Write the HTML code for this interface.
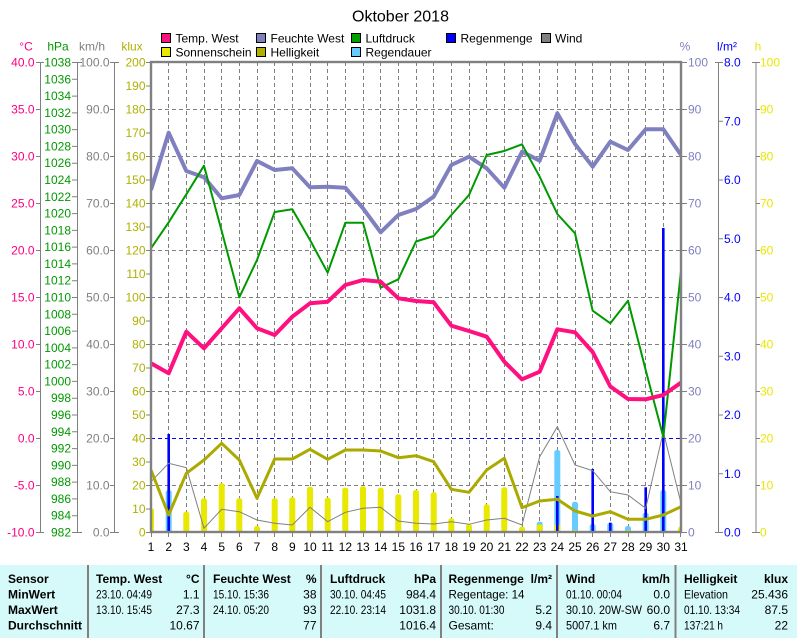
<!DOCTYPE html>
<html><head><meta charset="utf-8"><style>
html,body{margin:0;padding:0;background:#fff;width:797px;height:638px;overflow:hidden}
svg{display:block;font-family:"Liberation Sans",Arial,sans-serif}
</style></head><body>
<svg width="797" height="638" viewBox="0 0 797 638" xmlns="http://www.w3.org/2000/svg">
<defs><clipPath id="pc"><rect x="151" y="62" width="530" height="470"/></clipPath></defs>
<rect width="797" height="638" fill="#fff"/>
<text x="400.5" y="21.5" font-size="16" text-anchor="middle" fill="#000">Oktober 2018</text>

<!-- legend -->
<g font-size="12" fill="#000" stroke="none">
<rect x="161.5" y="33.5" width="9" height="9" fill="#ff1080" stroke="#000"/><text x="175.5" y="42.5">Temp. West</text>
<rect x="256.5" y="33.5" width="9" height="9" fill="#8080c0" stroke="#000"/><text x="270.5" y="42.5">Feuchte West</text>
<rect x="351.5" y="33.5" width="9" height="9" fill="#00a000" stroke="#000"/><text x="365.5" y="42.5">Luftdruck</text>
<rect x="446.5" y="33.5" width="9" height="9" fill="#0000ff" stroke="#000"/><text x="460.5" y="42.5">Regenmenge</text>
<rect x="541.5" y="33.5" width="9" height="9" fill="#808080" stroke="#000"/><text x="555" y="42.5">Wind</text>
<rect x="161.5" y="47.5" width="9" height="9" fill="#e8e800" stroke="#000"/><text x="175.5" y="56.5">Sonnenschein</text>
<rect x="256.5" y="47.5" width="9" height="9" fill="#b0b000" stroke="#000"/><text x="270.5" y="56.5">Helligkeit</text>
<rect x="351.5" y="47.5" width="9" height="9" fill="#66ccff" stroke="#000"/><text x="365.5" y="56.5">Regendauer</text>
</g>

<!-- unit headers -->
<g font-size="12" text-anchor="middle">
<text x="26" y="50.5" fill="#ff0080">°C</text>
<text x="58" y="50.5" fill="#009900">hPa</text>
<text x="92" y="50.5" fill="#808080">km/h</text>
<text x="132" y="50.5" fill="#b0b000">klux</text>
<text x="685" y="50.5" fill="#8080c0">%</text>
<text x="727" y="50.5" fill="#0000ff">l/m²</text>
<text x="758" y="50.5" fill="#e8e800">h</text>
</g>

<!-- grid -->
<g stroke="#808080" stroke-width="1" stroke-dasharray="4 3" fill="none">
<path d="M151 109.5H681M151 156.5H681M151 203.5H681M151 250.5H681M151 297.5H681M151 344.5H681M151 391.5H681M151 438.5H681M151 485.5H681"/>
<path d="M168.5 62V532M186.5 62V532M204.5 62V532M221.5 62V532M239.5 62V532M257.5 62V532M274.5 62V532M292.5 62V532M310.5 62V532M327.5 62V532M345.5 62V532M363.5 62V532M380.5 62V532M398.5 62V532M416.5 62V532M433.5 62V532M451.5 62V532M469.5 62V532M486.5 62V532M504.5 62V532M522.5 62V532M539.5 62V532M557.5 62V532M575.5 62V532M592.5 62V532M610.5 62V532M628.5 62V532M645.5 62V532M663.5 62V532"/>
</g>
<path d="M151 438.5H681" stroke="#0000ff" stroke-width="1" stroke-dasharray="4 3"/>

<!-- bars -->
<g clip-path="url(#pc)">
<g fill="#66ccff">
<rect x="165.7" y="490" width="6" height="45" rx="2.5"/>
<rect x="536.7" y="521.7" width="6" height="14" rx="2.5"/>
<rect x="554.3" y="450" width="6" height="85" rx="2.5"/>
<rect x="572" y="501.7" width="6" height="34" rx="2.5"/>
<rect x="589.7" y="524" width="6" height="12" rx="2.5"/>
<rect x="607.3" y="522.7" width="6" height="13" rx="2.5"/>
<rect x="625" y="526" width="6" height="10" rx="2.5"/>
<rect x="642.7" y="512.7" width="6" height="23" rx="2.5"/>
<rect x="660.3" y="490" width="6" height="45" rx="2.5"/>
</g>
<g fill="#e8e800">
<rect x="148" y="508.3" width="6" height="27" rx="2.5"/>
<rect x="183.3" y="511.7" width="6" height="24" rx="2.5"/>
<rect x="201" y="498.3" width="6" height="37" rx="2.5"/>
<rect x="218.7" y="483.3" width="6" height="52" rx="2.5"/>
<rect x="236.3" y="498.3" width="6" height="37" rx="2.5"/>
<rect x="254" y="526" width="6" height="10" rx="2.5"/>
<rect x="271.7" y="498.3" width="6" height="37" rx="2.5"/>
<rect x="289.3" y="497.3" width="6" height="38" rx="2.5"/>
<rect x="307" y="486.7" width="6" height="48" rx="2.5"/>
<rect x="324.7" y="497.7" width="6" height="37" rx="2.5"/>
<rect x="342.3" y="487.7" width="6" height="47" rx="2.5"/>
<rect x="360" y="486.3" width="6" height="48" rx="2.5"/>
<rect x="377.7" y="487.7" width="6" height="47" rx="2.5"/>
<rect x="395.3" y="494.3" width="6" height="40" rx="2.5"/>
<rect x="413" y="490" width="6" height="45" rx="2.5"/>
<rect x="430.7" y="492.3" width="6" height="43" rx="2.5"/>
<rect x="448.3" y="518.3" width="6" height="17" rx="2.5"/>
<rect x="466" y="524.3" width="6" height="12" rx="2.5"/>
<rect x="483.7" y="504.3" width="6" height="31" rx="2.5"/>
<rect x="501.3" y="487.3" width="6" height="48" rx="2.5"/>
<rect x="519" y="526.7" width="6" height="9" rx="2.5"/>
<rect x="536.7" y="524.3" width="6" height="12" rx="2.5"/>
<rect x="554.3" y="524" width="6" height="12" rx="2.5"/>
<rect x="572" y="530" width="6" height="6" rx="2.5"/>
<rect x="625" y="530" width="6" height="6" rx="2.5"/>
<rect x="678" y="526.7" width="6" height="9" rx="2.5"/>
</g>
<g fill="#0000ff">
<rect x="167.4" y="434" width="2.6" height="100"/>
<rect x="556" y="496" width="2.6" height="38"/>
<rect x="591.4" y="469" width="2.6" height="65"/>
<rect x="609" y="522.7" width="2.6" height="12"/>
<rect x="644.4" y="487.3" width="2.6" height="47"/>
<rect x="662" y="228" width="2.6" height="306"/>
</g>

<!-- series lines -->
<polyline fill="none" stroke="#808080" stroke-width="1" points="151,481.7 168.67,463.3 186.33,467.7 204,528.3 221.67,509.3 239.33,511.7 257,520 274.67,523.3 292.33,525 310,507.3 327.67,521.7 345.33,512.3 363,508.3 380.67,507.3 398.33,521 416,523.3 433.67,524 451.33,521.7 469,524.3 486.67,520 504.33,518.3 522,525 539.67,456.7 557.33,426.7 575,465 592.67,470.7 610.33,491.7 628,495 645.67,508.3 663.33,431.7 681,503.3"/>
<polyline fill="none" stroke="#aaaa00" stroke-width="3" stroke-linejoin="round" points="151,470 168.67,515 186.33,473.3 204,460 221.67,443.3 239.33,460 257,498.3 274.67,459 292.33,459 310,449.3 327.67,459.3 345.33,450 363,450 380.67,451 398.33,457.7 416,455.7 433.67,461.7 451.33,489.3 469,492.3 486.67,470 504.33,458.3 522,507.7 539.67,501 557.33,499.3 575,511 592.67,516 610.33,511.7 628,519.3 645.67,519.3 663.33,515 681,506.7"/>
<polyline fill="none" stroke="#8080c0" stroke-width="4" stroke-linejoin="round" points="151,190 168.67,132.7 186.33,171 204,177.3 221.67,198.3 239.33,195 257,161 274.67,170 292.33,168.3 310,187.3 327.67,186.7 345.33,187.7 363,208.3 380.67,232.3 398.33,215 416,209 433.67,196.7 451.33,165 469,156.7 486.67,168.3 504.33,187.7 522,151.7 539.67,160.7 557.33,113.3 575,144 592.67,166.7 610.33,141.7 628,150 645.67,129.3 663.33,129.3 681,155"/>
<polyline fill="none" stroke="#009900" stroke-width="2" stroke-linejoin="round" points="151,248.3 168.67,222.3 186.33,194.3 204,165.7 221.67,231 239.33,297.3 257,260 274.67,212 292.33,209.3 310,240 327.67,272.7 345.33,222.7 363,222.7 380.67,287.7 398.33,279.3 416,241.5 433.67,236 451.33,215 469,195 486.67,155 504.33,151 522,144.3 539.67,176.7 557.33,214 575,233.3 592.67,310.7 610.33,323.3 628,300.7 645.67,370 663.33,437 681,271"/>
<polyline fill="none" stroke="#ff1080" stroke-width="4" stroke-linejoin="round" points="151,363.3 168.67,373.3 186.33,331.7 204,348.3 221.67,328.3 239.33,308.3 257,328.3 274.67,335 292.33,316.7 310,303.3 327.67,301.7 345.33,285 363,280 380.67,281.7 398.33,298.3 416,301 433.67,302.3 451.33,325.7 469,331 486.67,336.7 504.33,361.7 522,379.3 539.67,371.7 557.33,329.3 575,332.3 592.67,352 610.33,386.5 628,399 645.67,399.3 663.33,395 681,382.7"/>
</g>

<!-- frame -->
<rect x="151" y="62" width="530" height="470" fill="none" stroke="#808080" stroke-width="2.4"/>

<!-- axes lines & ticks -->
<g stroke="#808080" stroke-width="1" fill="none">
<path d="M40.5 62V532M36 62.5H44M36 109.5H41M36 156.5H41M36 203.5H41M36 250.5H41M36 297.5H41M36 344.5H41M36 391.5H41M36 438.5H41M36 485.5H41M36 532.5H44"/>
<path d="M77.5 62V532M72 62.5H82M72 79.3H78M72 96.1H78M72 112.9H78M72 129.6H78M72 146.4H78M72 163.2H78M72 180H78M72 196.8H78M72 213.6H78M72 230.4H78M72 247.1H78M72 263.9H78M72 280.7H78M72 297.5H78M72 314.3H78M72 331.1H78M72 347.9H78M72 364.6H78M72 381.4H78M72 398.2H78M72 415H78M72 431.8H78M72 448.6H78M72 465.4H78M72 482.1H78M72 498.9H78M72 515.7H78M72 532.5H82"/>
<path d="M114.5 62V532M110 62.5H119M110 109.5H115M110 156.5H115M110 203.5H115M110 250.5H115M110 297.5H115M110 344.5H115M110 391.5H115M110 438.5H115M110 485.5H115M110 532.5H119"/>
<path d="M146 62.5H151M146 86H151M146 109.5H151M146 133H151M146 156.5H151M146 180H151M146 203.5H151M146 227H151M146 250.5H151M146 274H151M146 297.5H151M146 321H151M146 344.5H151M146 368H151M146 391.5H151M146 415H151M146 438.5H151M146 462H151M146 485.5H151M146 509H151M146 532.5H151"/>
<path d="M681 62.5H687M681 109.5H687M681 156.5H687M681 203.5H687M681 250.5H687M681 297.5H687M681 344.5H687M681 391.5H687M681 438.5H687M681 485.5H687M681 532.5H687"/>
<path d="M718.5 62V532M715 62.5H723M718 121.3H723M718 180H723M718 238.8H723M718 297.5H723M718 356.3H723M718 415H723M718 473.8H723M715 532.5H723"/>
<path d="M756 62V532M752 62.5H760M756 109.5H760M756 156.5H760M756 203.5H760M756 250.5H760M756 297.5H760M756 344.5H760M756 391.5H760M756 438.5H760M756 485.5H760M752 532.5H760"/>
<path d="M151.5 532V537M168.5 532V537M186.5 532V537M204.5 532V537M221.5 532V537M239.5 532V537M257.5 532V537M274.5 532V537M292.5 532V537M310.5 532V537M327.5 532V537M345.5 532V537M363.5 532V537M380.5 532V537M398.5 532V537M416.5 532V537M433.5 532V537M451.5 532V537M469.5 532V537M486.5 532V537M504.5 532V537M522.5 532V537M539.5 532V537M557.5 532V537M575.5 532V537M592.5 532V537M610.5 532V537M628.5 532V537M645.5 532V537M663.5 532V537M680.5 532V537"/>
</g>

<!-- axis labels -->
<g font-size="12" text-anchor="end" fill="#ff0080">
<text x="34.5" y="66.5">40.0</text><text x="34.5" y="113.5">35.0</text><text x="34.5" y="160.5">30.0</text><text x="34.5" y="207.5">25.0</text><text x="34.5" y="254.5">20.0</text><text x="34.5" y="301.5">15.0</text><text x="34.5" y="348.5">10.0</text><text x="34.5" y="395.5">5.0</text><text x="34.5" y="442.5">0.0</text><text x="34.5" y="489.5">-5.0</text><text x="34.5" y="536.5">-10.0</text>
</g>
<g font-size="12" text-anchor="end" fill="#009900">
<text x="71" y="66.5">1038</text><text x="71" y="83.3">1036</text><text x="71" y="100.1">1034</text><text x="71" y="116.9">1032</text><text x="71" y="133.6">1030</text><text x="71" y="150.4">1028</text><text x="71" y="167.2">1026</text><text x="71" y="184">1024</text><text x="71" y="200.8">1022</text><text x="71" y="217.6">1020</text><text x="71" y="234.4">1018</text><text x="71" y="251.1">1016</text><text x="71" y="267.9">1014</text><text x="71" y="284.7">1012</text><text x="71" y="301.5">1010</text><text x="71" y="318.3">1008</text><text x="71" y="335.1">1006</text><text x="71" y="351.9">1004</text><text x="71" y="368.6">1002</text><text x="71" y="385.4">1000</text><text x="71" y="402.2">998</text><text x="71" y="419">996</text><text x="71" y="435.8">994</text><text x="71" y="452.6">992</text><text x="71" y="469.4">990</text><text x="71" y="486.1">988</text><text x="71" y="502.9">986</text><text x="71" y="519.7">984</text><text x="71" y="536.5">982</text>
</g>
<g font-size="12" text-anchor="end" fill="#808080">
<text x="109.5" y="66.5">100.0</text><text x="109.5" y="113.5">90.0</text><text x="109.5" y="160.5">80.0</text><text x="109.5" y="207.5">70.0</text><text x="109.5" y="254.5">60.0</text><text x="109.5" y="301.5">50.0</text><text x="109.5" y="348.5">40.0</text><text x="109.5" y="395.5">30.0</text><text x="109.5" y="442.5">20.0</text><text x="109.5" y="489.5">10.0</text><text x="109.5" y="536.5">0.0</text>
</g>
<g font-size="12" text-anchor="end" fill="#b0b000">
<text x="145.5" y="66.5">200</text><text x="145.5" y="90">190</text><text x="145.5" y="113.5">180</text><text x="145.5" y="137">170</text><text x="145.5" y="160.5">160</text><text x="145.5" y="184">150</text><text x="145.5" y="207.5">140</text><text x="145.5" y="231">130</text><text x="145.5" y="254.5">120</text><text x="145.5" y="278">110</text><text x="145.5" y="301.5">100</text><text x="145.5" y="325">90</text><text x="145.5" y="348.5">80</text><text x="145.5" y="372">70</text><text x="145.5" y="395.5">60</text><text x="145.5" y="419">50</text><text x="145.5" y="442.5">40</text><text x="145.5" y="466">30</text><text x="145.5" y="489.5">20</text><text x="145.5" y="513">10</text><text x="145.5" y="536.5">0</text>
</g>
<g font-size="12" fill="#8080c0">
<text x="688" y="66.5">100</text><text x="688" y="113.5">90</text><text x="688" y="160.5">80</text><text x="688" y="207.5">70</text><text x="688" y="254.5">60</text><text x="688" y="301.5">50</text><text x="688" y="348.5">40</text><text x="688" y="395.5">30</text><text x="688" y="442.5">20</text><text x="688" y="489.5">10</text><text x="688" y="536.5">0</text>
</g>
<g font-size="12" fill="#0000ff">
<text x="724" y="66.5">8.0</text><text x="724" y="125.3">7.0</text><text x="724" y="184">6.0</text><text x="724" y="242.8">5.0</text><text x="724" y="301.5">4.0</text><text x="724" y="360.3">3.0</text><text x="724" y="419">2.0</text><text x="724" y="477.8">1.0</text><text x="724" y="536.5">0.0</text>
</g>
<g font-size="12" fill="#e8e800">
<text x="760" y="66.5">100</text><text x="760" y="113.5">90</text><text x="760" y="160.5">80</text><text x="760" y="207.5">70</text><text x="760" y="254.5">60</text><text x="760" y="301.5">50</text><text x="760" y="348.5">40</text><text x="760" y="395.5">30</text><text x="760" y="442.5">20</text><text x="760" y="489.5">10</text><text x="760" y="536.5">0</text>
</g>
<g font-size="12" text-anchor="middle" fill="#000">
<text x="151" y="551">1</text><text x="168.67" y="551">2</text><text x="186.33" y="551">3</text><text x="204" y="551">4</text><text x="221.67" y="551">5</text><text x="239.33" y="551">6</text><text x="257" y="551">7</text><text x="274.67" y="551">8</text><text x="292.33" y="551">9</text><text x="310" y="551">10</text><text x="327.67" y="551">11</text><text x="345.33" y="551">12</text><text x="363" y="551">13</text><text x="380.67" y="551">14</text><text x="398.33" y="551">15</text><text x="416" y="551">16</text><text x="433.67" y="551">17</text><text x="451.33" y="551">18</text><text x="469" y="551">19</text><text x="486.67" y="551">20</text><text x="504.33" y="551">21</text><text x="522" y="551">22</text><text x="539.67" y="551">23</text><text x="557.33" y="551">24</text><text x="575" y="551">25</text><text x="592.67" y="551">26</text><text x="610.33" y="551">27</text><text x="628" y="551">28</text><text x="645.67" y="551">29</text><text x="663.33" y="551">30</text><text x="681" y="551">31</text>
</g>

<!-- table -->
<rect x="0" y="565" width="797" height="73" fill="#d6fafa"/>
<g stroke="#808080" stroke-width="2">
<path d="M88 565V638M204 565V638M321 565V638M441 565V638M557 565V638M675.5 565V638"/>
</g>
<g font-size="12" font-weight="bold" fill="#000">
<text x="8" y="583">Sensor</text><text x="8" y="598.5">MinWert</text><text x="8" y="614">MaxWert</text><text x="8" y="629.5">Durchschnitt</text>
<text x="96" y="583">Temp. West</text><text x="199.5" y="583" text-anchor="end">°C</text>
<text x="213" y="583">Feuchte West</text><text x="316.5" y="583" text-anchor="end">%</text>
<text x="330" y="583">Luftdruck</text><text x="436" y="583" text-anchor="end">hPa</text>
<text x="448.5" y="583">Regenmenge</text><text x="552" y="583" text-anchor="end">l/m²</text>
<text x="566" y="583">Wind</text><text x="670" y="583" text-anchor="end">km/h</text>
<text x="684" y="583">Helligkeit</text><text x="788" y="583" text-anchor="end">klux</text>
</g>
<g font-size="12" fill="#000">
<text x="96" y="598.5" textLength="56" lengthAdjust="spacingAndGlyphs">23.10. 04:49</text><text x="199.5" y="598.5" text-anchor="end">1.1</text>
<text x="96" y="614" textLength="56" lengthAdjust="spacingAndGlyphs">13.10. 15:45</text><text x="199.5" y="614" text-anchor="end">27.3</text>
<text x="199.5" y="629.5" text-anchor="end">10.67</text>
<text x="213" y="598.5" textLength="56" lengthAdjust="spacingAndGlyphs">15.10. 15:36</text><text x="316.5" y="598.5" text-anchor="end">38</text>
<text x="213" y="614" textLength="56" lengthAdjust="spacingAndGlyphs">24.10. 05:20</text><text x="316.5" y="614" text-anchor="end">93</text>
<text x="316.5" y="629.5" text-anchor="end">77</text>
<text x="330" y="598.5" textLength="56" lengthAdjust="spacingAndGlyphs">30.10. 04:45</text><text x="436" y="598.5" text-anchor="end">984.4</text>
<text x="330" y="614" textLength="56" lengthAdjust="spacingAndGlyphs">22.10. 23:14</text><text x="436" y="614" text-anchor="end">1031.8</text>
<text x="436" y="629.5" text-anchor="end">1016.4</text>
<text x="448.5" y="598.5" textLength="76" lengthAdjust="spacingAndGlyphs">Regentage: 14</text>
<text x="448.5" y="614" textLength="56" lengthAdjust="spacingAndGlyphs">30.10. 01:30</text><text x="552" y="614" text-anchor="end">5.2</text>
<text x="448.5" y="629.5">Gesamt:</text><text x="552" y="629.5" text-anchor="end">9.4</text>
<text x="566" y="598.5" textLength="56" lengthAdjust="spacingAndGlyphs">01.10. 00:04</text><text x="670" y="598.5" text-anchor="end">0.0</text>
<text x="566" y="614" textLength="76" lengthAdjust="spacingAndGlyphs">30.10.  20W-SW</text><text x="670" y="614" text-anchor="end">60.0</text>
<text x="566" y="629.5" textLength="51" lengthAdjust="spacingAndGlyphs">5007.1 km</text><text x="670" y="629.5" text-anchor="end">6.7</text>
<text x="684" y="598.5" textLength="44" lengthAdjust="spacingAndGlyphs">Elevation</text><text x="788" y="598.5" text-anchor="end">25.436</text>
<text x="684" y="614" textLength="56" lengthAdjust="spacingAndGlyphs">01.10. 13:34</text><text x="788" y="614" text-anchor="end">87.5</text>
<text x="684" y="629.5" textLength="39" lengthAdjust="spacingAndGlyphs">137:21 h</text><text x="788" y="629.5" text-anchor="end">22</text>
</g>
</svg>
</body></html>
